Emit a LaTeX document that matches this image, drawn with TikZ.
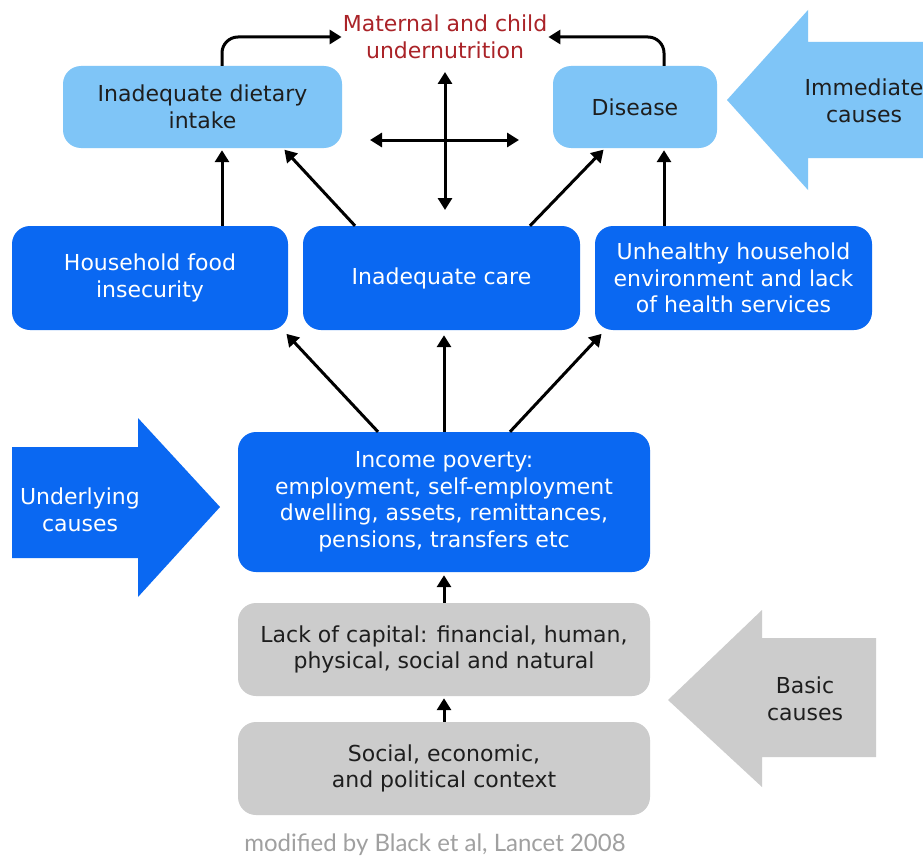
\documentclass[tikz,border=0pt]{standalone}
\usepackage{fontspec}
\setmainfont{DejaVu Sans}
\newfontfamily\capfont{Lato}
\usetikzlibrary{arrows.meta}
\definecolor{lblue}{RGB}{127,197,247}
\definecolor{dblue}{RGB}{10,104,242}
\definecolor{lgray}{RGB}{204,204,204}
\definecolor{mred}{RGB}{170,35,40}
\definecolor{txtdark}{RGB}{30,30,30}
\definecolor{capgray}{RGB}{160,160,160}
\begin{document}
\begin{tikzpicture}[x=1pt,y=-1pt,
  boxbase/.style={rounded corners=18pt, inner sep=0pt, align=center,
    font=\fontsize{22}{26.5}\selectfont},
  lbox/.style={boxbase, fill=lblue, text=txtdark},
  dbox/.style={boxbase, fill=dblue, text=white},
  gbox/.style={boxbase, fill=lgray, text=txtdark},
  conn/.style={line width=3pt, -{Triangle[length=12pt,width=14pt]}},
  dconn/.style={line width=3pt, {Triangle[length=12pt,width=14pt]}-{Triangle[length=12pt,width=14pt]}},
  bigtxt/.style={align=center, font=\fontsize{22}{26.5}\selectfont}
]
\useasboundingbox (0,0) rectangle (923,856);
\fill[white] (0,0) rectangle (923,856);

% big side arrows
\fill[lblue] (727,100) -- (808,10) -- (808,42) -- (930,42) -- (930,158) -- (808,158) -- (808,190) -- cycle;
\node[bigtxt, text=txtdark] (imm) at (864,101) {Immediate\\causes};
\fill[dblue] (12,447) -- (138,447) -- (138,418) -- (220,507) -- (138,597) -- (138,558) -- (12,558) -- cycle;
\node[bigtxt, text=white] (und) at (80,510) {Underlying\\causes};
\fill[lgray] (668,700) -- (762,610) -- (762,638) -- (876,638) -- (876,757) -- (762,757) -- (762,787) -- cycle;
\node[bigtxt, text=txtdark] (bas) at (805,699) {Basic\\causes};

% title
\node[bigtxt, text=mred, inner sep=1pt] (mat) at (445,37) {Maternal and child\\undernutrition};

% row 1
\node[lbox, minimum width=279pt, minimum height=82pt] (diet) at (202.5,107) {Inadequate dietary\\intake};
\node[lbox, minimum width=164pt, minimum height=82pt] (dis) at (635,107) {Disease};

% row 2
\node[dbox, minimum width=276pt, minimum height=104pt] (food) at (150,278) {Household food\\insecurity};
\node[dbox, minimum width=277pt, minimum height=104pt] (care) at (441.5,278) {Inadequate care};
\node[dbox, minimum width=277pt, minimum height=104pt] (unh) at (733.5,278) {Unhealthy household\\environment and lack\\of health services};

% row 3
\node[dbox, minimum width=412pt, minimum height=140pt] (inc) at (444,502) {Income poverty:\\employment, self-employment\\dwelling, assets, remittances,\\pensions, transfers etc};
\node[gbox, minimum width=412pt, minimum height=93pt] (lack) at (444,649.5) {Lack of capital: financial, human,\\physical, social and natural};
\node[gbox, minimum width=412pt, minimum height=93pt] (soc) at (444,768.5) {Social, economic,\\and political context};

% caption
\node[font=\capfont\fontsize{24}{28}\selectfont, text=capgray] (cap) at (435,845) {modified by Black et al, Lancet 2008};

% top curved arrows
\draw[conn, rounded corners=16pt] ([xshift=19.5pt]diet.north) |- (mat.west);
\draw[conn, rounded corners=16pt] ([xshift=29pt]dis.north) |- (mat.east);

% cross arrows
\coordinate (v1) at (445,72);
\coordinate (v2) at (445,210);
\coordinate (h1) at (370,140);
\coordinate (h2) at (519,140);
\draw[dconn] (v1) -- (v2);
\draw[dconn] (h1) -- (h2);

% row2 -> row1
\draw[conn, shorten >=2pt] ([xshift=72pt]food.north) -- ([xshift=19.5pt]diet.south);
\draw[conn, shorten >=2pt] ([xshift=-86.5pt]care.north) -- ([xshift=80.5pt]diet.south);
\draw[conn, shorten >=2pt] ([xshift=88.5pt]care.north) -- ([xshift=-30pt]dis.south);
\draw[conn, shorten >=2pt] ([xshift=-69.5pt]unh.north) -- ([xshift=29pt]dis.south);

% row3 -> row2
\draw[conn, shorten >=5pt] ([xshift=-66pt]inc.north) -- ([xshift=133pt]food.south);
\draw[conn, shorten >=5pt] (inc.north) -- (inc.north |- care.south);
\draw[conn, shorten >=5pt] ([xshift=66pt]inc.north) -- ([xshift=-128.5pt]unh.south);

% bottom
\draw[conn, shorten >=3pt] (lack.north) -- (inc.south);
\draw[conn, shorten >=2pt] (soc.north) -- (lack.south);
\end{tikzpicture}
\end{document}
